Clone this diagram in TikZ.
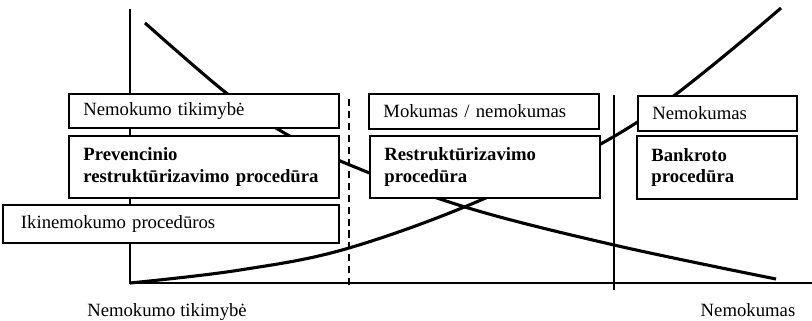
\documentclass[tikz,border=0pt]{standalone}
\usepackage{fontspec}
\setmainfont{Liberation Serif}

\begin{document}
\begin{tikzpicture}[
  x=0.025cm, y=-0.025cm,
  box/.style={draw, fill=white, line width=1.4pt, anchor=north west, align=left,
    inner xsep=0.36cm, inner ysep=0pt, font=\fontsize{13.3}{15.6}\selectfont},
  boldbox/.style={box, font=\fontsize{13.3}{15.6}\selectfont\bfseries},
  curve/.style={line width=2.2pt},
  axis/.style={line width=1.3pt},
  divider/.style={line width=0.9pt}]

  \useasboundingbox (0,0) rectangle (812,321);

  \coordinate (O) at (130,283);
  \coordinate (ytop) at (130,9);
  \coordinate (xend) at (812,283);
  \coordinate (d1top) at (349,99);
  \coordinate (d1bot) at (349,290);
  \coordinate (d2top) at (614,95);
  \coordinate (d2bot) at (614,290);

  \draw[axis] (ytop) -- (O) -- (xend);
  \draw[divider, dash pattern=on 5pt off 3.5pt] (d1top) -- (d1bot);
  \draw[divider] (d2top) -- (d2bot);

  \draw[curve] plot[smooth, tension=0.6] coordinates
    {(145,23) (225,92) (281,131) (345,163) (465,207) (614,245) (776,279)};
  \draw[curve] plot[smooth, tension=0.6] coordinates
    {(130,283) (240,270) (349,248) (488,197) (636,123) (781,8)};

  \node[box, text width=6.03cm, minimum height=0.85cm] (tikimybe) at (68,93) {Nemokumo tikimybė};
  \node[boldbox, text width=6.03cm, minimum height=1.55cm] (prevencine) at (68,135)
    {Prevencinio\\restruktūrizavimo procedūra};
  \node[box, inner xsep=0.45cm, text width=7.5cm, minimum height=0.95cm] (ikinemokumo) at (2,204)
    {Ikinemokumo procedūros};

  \node[box, text width=5.03cm, minimum height=0.875cm] (mokumas) at (368,93) {Mokumas / nemokumas};
  \node[boldbox, text width=5.03cm, minimum height=1.55cm] (restrukt) at (369,135)
    {Restruktūrizavimo\\procedūra};

  \node[box, text width=3.255cm, minimum height=0.875cm] (nemokumas) at (637,95) {Nemokumas};
  \node[boldbox, text width=3.28cm, minimum height=1.575cm] (bankrotas) at (636,135)
    {Bankroto\\procedūra};

  \node[font=\fontsize{13.3}{15.6}\selectfont, anchor=base] (xleft) at (167,317) {Nemokumo tikimybė};
  \node[font=\fontsize{13.3}{15.6}\selectfont, anchor=base] (xright) at (748,317) {Nemokumas};
\end{tikzpicture}
\end{document}
